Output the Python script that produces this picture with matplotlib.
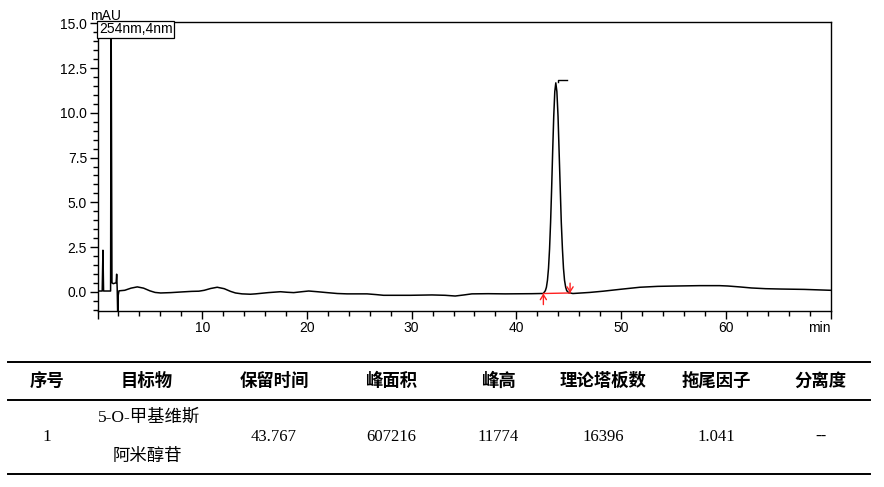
#!/usr/bin/env python3
"""HPLC chromatogram (254 nm) with the system-suitability table underneath."""

import matplotlib

matplotlib.use("Agg")
import matplotlib.pyplot as plt
from matplotlib.lines import Line2D
from matplotlib.ticker import MultipleLocator

plt.rcParams["font.family"] = ["Liberation Sans", "Noto Sans CJK SC"]

# trace: retention time (min) and signal (mAU)
time_min = [
    0.0, 0.45, 0.52, 0.58, 1.25, 1.30, 1.38, 1.50, 1.78, 1.83, 1.88, 1.93, 1.98,
    2.05, 2.6, 3.2, 3.8, 4.4, 5.0, 5.5, 6.03, 7.0, 8.1, 9.0, 9.68, 10.2, 10.8,
    11.43, 12.1, 12.7, 13.18, 13.8, 14.6, 15.09, 16.3, 17.47, 18.1, 18.74,
    19.5, 20.17, 21.0, 21.92, 22.9, 23.83, 25.74, 26.6, 27.32, 29.87, 31.94,
    33.2, 34.16, 35.0, 35.75, 37.3, 38.93, 41.47, 42.4, 42.57, 42.77, 42.87,
    42.97, 43.07, 43.17, 43.27, 43.37, 43.47, 43.57, 43.67, 43.767, 43.87,
    43.98, 44.08, 44.19, 44.29, 44.40, 44.50, 44.60, 44.71, 44.81, 45.02,
    45.13, 45.4, 47.0, 48.3, 50.0, 51.8, 53.5, 55.3, 57.5, 59.4, 60.2, 61.3,
    62.45, 63.8, 65.3, 67.5, 70.0,
]
signal_mau = [
    0.04, 0.04, 2.32, 0.04, 0.04, 16.0, 0.5, 0.45, 0.5, 0.98, 0.2, -1.3, -0.2,
    0.05, 0.08, 0.2, 0.27, 0.2, 0.05, -0.04, -0.07, -0.05, -0.01, 0.02, 0.03,
    0.08, 0.18, 0.25, 0.17, 0.02, -0.07, -0.12, -0.14, -0.12, -0.05, 0.0,
    -0.03, -0.05, 0.0, 0.04, 0.0, -0.05, -0.1, -0.12, -0.12, -0.16, -0.2,
    -0.2, -0.18, -0.2, -0.24, -0.18, -0.12, -0.11, -0.12, -0.11, -0.1, -0.1,
    0.06, 0.25, 0.64, 1.31, 2.39, 3.89, 5.79, 7.89, 9.81, 11.19, 11.68, 11.19,
    9.81, 7.89, 5.79, 3.89, 2.39, 1.31, 0.64, 0.25, 0.06, -0.07, -0.07, -0.1,
    -0.04, 0.03, 0.14, 0.25, 0.3, 0.32, 0.34, 0.34, 0.32, 0.27, 0.21, 0.17,
    0.15, 0.13, 0.08,
]

# integration marks of the main peak
peak_start = (42.58, -0.10)
peak_end = (45.13, -0.07)

table_header = ["序号", "目标物", "保留时间", "峰面积", "峰高", "理论塔板数", "拖尾因子", "分离度"]
row_index = "1"
row_name = ["5-O-甲基维斯", "阿米醇苷"]
row_values = ["43.767", "607216", "11774", "16396", "1.041", "--"]

W, H = 884, 487


def fx(px):
    return px / W


def fy(py):
    return 1 - py / H


fig = plt.figure(figsize=(W / 100, H / 100), dpi=100)
ax = fig.add_axes([fx(97.5), fy(310.5), fx(830.5) - fx(97.5), fy(21.7) - fy(310.5)])

ax.plot(time_min, signal_mau, color="black", lw=1.1)

# integration baseline + start/end arrows
ax.plot([peak_start[0], peak_end[0]], [peak_start[1], peak_end[1]], color="#ff2020", lw=1.0)
arrow = dict(arrowstyle="->,head_length=0.35,head_width=0.22", color="#ff2020", lw=1.0,
             shrinkA=0, shrinkB=0)
ax.annotate("", xy=peak_start, xytext=(peak_start[0], peak_start[1] - 0.62), arrowprops=arrow)
ax.annotate("", xy=peak_end, xytext=(peak_end[0], peak_end[1] + 0.55), arrowprops=arrow)
# little apex flag
ax.plot([43.98, 43.98, 44.84], [11.72, 11.82, 11.82], color="black", lw=1.0)

ax.set_xlim(0, 70)
ax.set_ylim(-1.05, 15.1)
ax.xaxis.set_minor_locator(MultipleLocator(2))
ax.yaxis.set_minor_locator(MultipleLocator(0.5))
ax.set_xticks(range(0, 71, 10))
ax.set_xticklabels(["", "10", "20", "30", "40", "50", "60", "min"])
ax.get_xticklabels()[-1].set_ha("right")
ax.set_yticks([0, 2.5, 5, 7.5, 10, 12.5, 15])
ax.set_yticklabels([f"{v:.1f}" for v in [0, 2.5, 5, 7.5, 10, 12.5, 15]])
ax.tick_params(which="major", direction="out", length=6, width=1, labelsize=10, pad=1.5)
ax.tick_params(which="minor", direction="out", length=3.5, width=1)
for side in ax.spines.values():
    side.set_linewidth(1.0)

ax.text(0.002, 0.998, "254nm,4nm", transform=ax.transAxes, ha="left", va="top",
        fontsize=10, bbox=dict(boxstyle="square,pad=0.12", fc="white", ec="black", lw=0.9))
fig.text(fx(90.5), fy(20), "mAU", ha="left", va="baseline", fontsize=10)

# --- table ---
for py in (362, 400, 474):
    fig.add_artist(Line2D([fx(8), fx(870)], [fy(py), fy(py)], color="black", lw=1.4,
                          transform=fig.transFigure))

col_x = [47, 147, 274, 391, 498, 603, 716, 821]
for x, label in zip(col_x, table_header):
    fig.text(fx(x), fy(381), label, ha="center", va="center", fontsize=12.5,
             family="Noto Sans CJK SC", fontweight="bold")

serif_cjk = ["Liberation Serif", "Noto Sans CJK SC"]
fig.text(fx(col_x[0]), fy(437), row_index, ha="center", va="center", fontsize=12.5, family=serif_cjk)
fig.text(fx(149), fy(418), row_name[0], ha="center", va="center", fontsize=12.5, family=serif_cjk)
fig.text(fx(147), fy(457), row_name[1], ha="center", va="center", fontsize=12.5, family=serif_cjk)
for x, val in zip(col_x[2:], row_values):
    fig.text(fx(x), fy(437), val, ha="center", va="center", fontsize=12, family=serif_cjk,
             fontweight="bold" if val == "--" else "normal")

fig.savefig("out.png", dpi=100)
